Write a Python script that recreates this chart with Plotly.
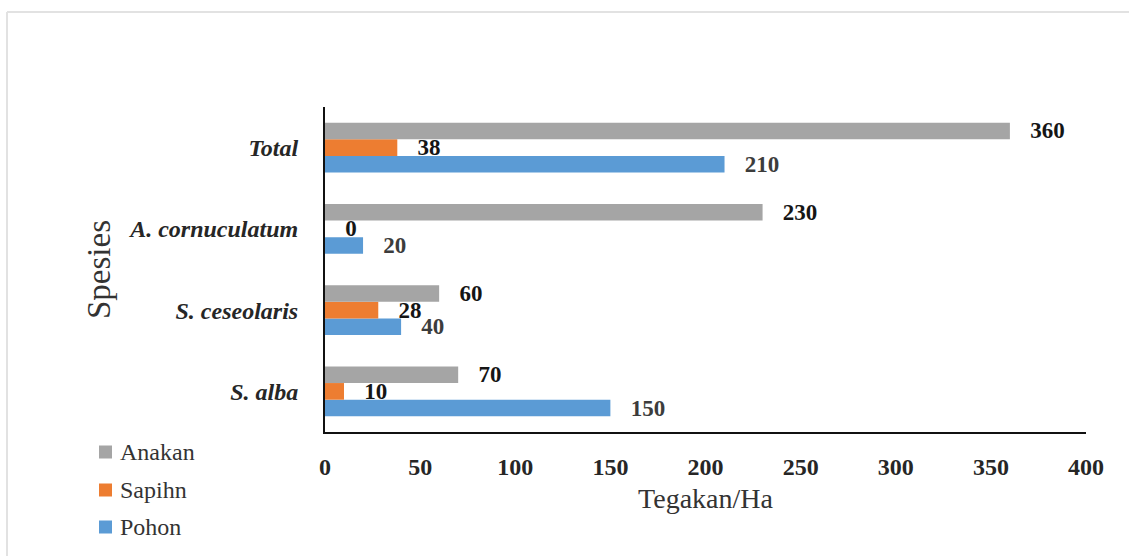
import plotly.graph_objects as go

categories = ["S. alba", "S. ceseolaris", "A. cornuculatum", "Total"]
pohon = [150, 40, 20, 210]
sapihn = [10, 28, 0, 38]
anakan = [70, 60, 230, 360]
x_ticks = [0, 50, 100, 150, 200, 250, 300, 350, 400]

FONT = "Liberation Serif"
TXT = "#262626"
PAD = "\u00a0\u00a0\u00a0"

series = [("Pohon", pohon, "#5B9BD5", "#3c3c3c"),
          ("Sapihn", sapihn, "#ED7D31", "#151515"),
          ("Anakan", anakan, "#A5A5A5", "#151515")]

fig = go.Figure()
for name, vals, color, tcol in series:
    fig.add_trace(go.Bar(
        y=categories, x=vals, name=name, orientation="h",
        marker=dict(color=color, line=dict(width=0)),
        text=[PAD + str(v) for v in vals], textposition="outside",
        constraintext="none",
        textfont=dict(family=FONT, size=23, color=tcol, weight="bold"),
        cliponaxis=False, showlegend=False,
    ))

# plot area in pixels: x 325..1086, y 107..432
def px(xp):
    return (xp - 325) / 761.0

def py(yp):
    return (432 - yp) / 325.0

# legend (Anakan, Sapihn, Pohon top to bottom)
legend_rows = [452, 490, 527]
for (name, vals, color, tcol), yc in zip(series[::-1], legend_rows):
    fig.add_shape(type="rect", xref="paper", yref="paper",
                  x0=px(99), x1=px(112), y0=py(yc - 6.5), y1=py(yc + 6.5),
                  fillcolor=color, line=dict(width=0))
    fig.add_annotation(xref="paper", yref="paper", x=px(118), y=py(yc),
                       xanchor="left", yanchor="middle", showarrow=False,
                       text=name, font=dict(family=FONT, size=24, color="#333"))

fig.update_layout(
    width=1129, height=556,
    margin=dict(l=325, r=43, t=107, b=124),
    paper_bgcolor="white", plot_bgcolor="white",
    barmode="group", bargap=0.385, bargroupgap=0,
    font=dict(family=FONT, color=TXT),
    showlegend=False,
    xaxis=dict(range=[0, 400], tickvals=x_ticks, showgrid=False, zeroline=False,
               showline=True, linecolor="#111", linewidth=2, ticks="",
               tickfont=dict(family=FONT, size=24, color=TXT, weight="bold"),
               ticklabelstandoff=12,
               title=dict(text="Tegakan/Ha", font=dict(family=FONT, size=28, color="#333"),
                          standoff=10)),
    yaxis=dict(range=[-0.5, 3.5], showgrid=False, zeroline=False,
               showline=True, linecolor="#111", linewidth=2, ticks="",
               tickfont=dict(family=FONT, size=24, color=TXT, weight="bold", style="italic"),
               ticklabelstandoff=20,
               title=dict(text="Spesies", font=dict(family=FONT, size=33, color="#333"),
                          standoff=8)),
)

# outer frame (top and left edges)
fig.add_shape(type="line", xref="paper", yref="paper",
              x0=px(7), x1=px(1129), y0=py(12), y1=py(12),
              line=dict(color="#e2e2e2", width=2))
fig.add_shape(type="line", xref="paper", yref="paper",
              x0=px(7), x1=px(7), y0=py(12), y1=py(556),
              line=dict(color="#e2e2e2", width=2))

fig.write_html("out.html")
